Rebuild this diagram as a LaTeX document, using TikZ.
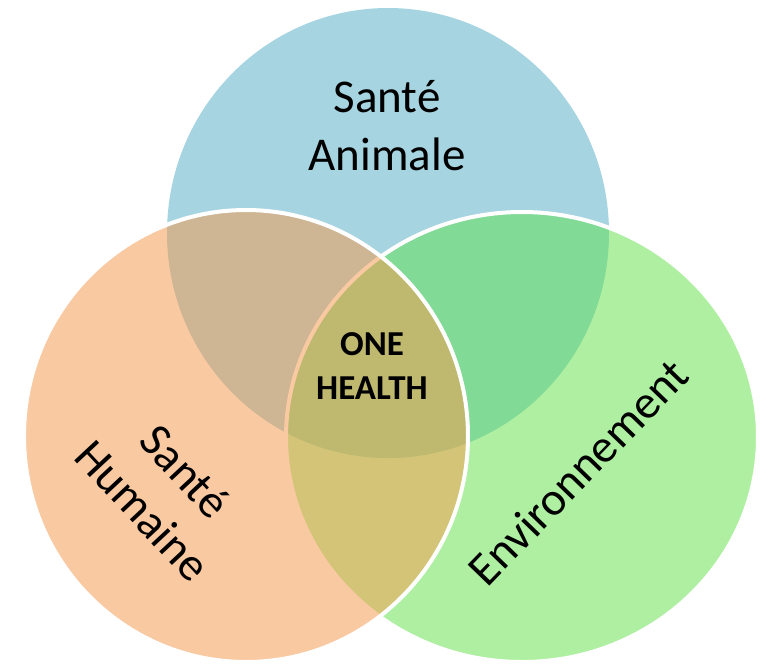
\documentclass[tikz,border=0pt]{standalone}
\usepackage{fontspec}
\setmainfont{Carlito}
\definecolor{cB}{HTML}{A6D4E0}
\definecolor{cO}{HTML}{F9C9A2}
\definecolor{cG}{HTML}{AFEFA2}
\definecolor{cBO}{HTML}{CEB594}
\definecolor{cBG}{HTML}{81DA96}
\definecolor{cOG}{HTML}{D4C477}
\definecolor{cBOG}{HTML}{BFB970}
\begin{document}
\begin{tikzpicture}[x=1pt,y=-1pt,
  lbl/.style={font=\fontsize{47}{58}\selectfont, align=center, text=black, inner sep=0pt},
  core/.style={font=\fontsize{35}{44}\selectfont\bfseries, align=center, text=black, inner sep=0pt},
  rim/.style={draw=white, line width=4pt}]
\useasboundingbox (0,0) rectangle (761,664);
% blue (Sante Animale)
\fill[cB] (388,233) ellipse [x radius=221, y radius=225];
% green (Environnement)
\fill[cG] (522,437) ellipse [x radius=236, y radius=225];
\begin{scope}
  \clip (522,437) ellipse [x radius=236, y radius=225];
  \fill[cBG] (388,233) ellipse [x radius=221, y radius=225];
\end{scope}
\draw[rim] (522,437) ellipse [x radius=236, y radius=225];
% orange (Sante Humaine)
\fill[cO] (246,436) ellipse [x radius=222, y radius=226];
\begin{scope}
  \clip (246,436) ellipse [x radius=222, y radius=226];
  \fill[cBO] (388,233) ellipse [x radius=221, y radius=225];
  \begin{scope}
    \clip (522,437) ellipse [x radius=236, y radius=225];
    \fill[cOG] (522,437) ellipse [x radius=236, y radius=225];
    \fill[cBOG] (388,233) ellipse [x radius=221, y radius=225];
  \end{scope}
  \draw[cO, line width=4pt] (522,437) ellipse [x radius=236, y radius=225];
\end{scope}
\draw[rim] (246,436) ellipse [x radius=222, y radius=226];
% labels
\node[lbl] (animal) at (387,126) {Santé\\Animale};
\node[lbl, rotate=-47] (humain) at (164,491) {Santé\\Humaine};
\node[lbl, rotate=46] (env) at (578,472) {Environnement};
\node[core] (one) at (372,366) {ONE\\HEALTH};
\end{tikzpicture}
\end{document}
